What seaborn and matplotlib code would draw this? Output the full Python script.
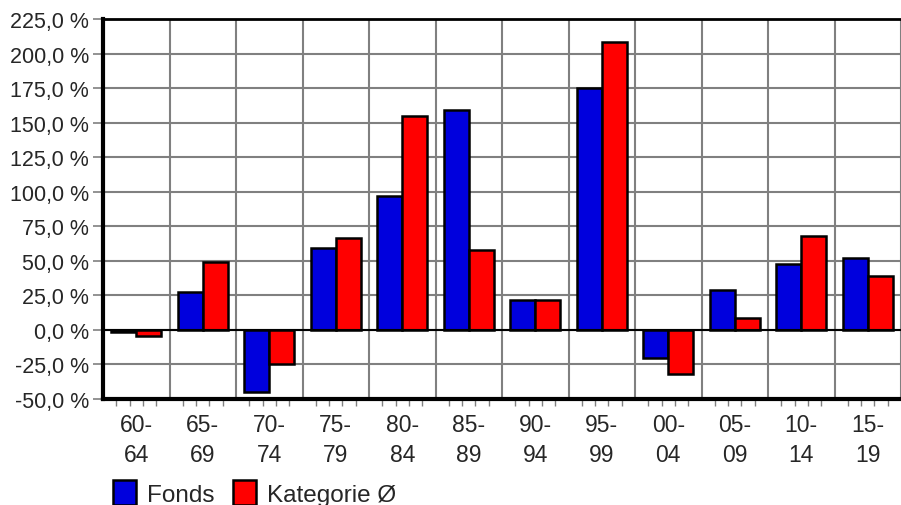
import numpy as np
import pandas as pd
import matplotlib
matplotlib.use("Agg")
import matplotlib.pyplot as plt
import seaborn as sns
from matplotlib.ticker import FuncFormatter

# Daten
zeitraum = ['60-\n64', '65-\n69', '70-\n74', '75-\n79', '80-\n84', '85-\n89',
            '90-\n94', '95-\n99', '00-\n04', '05-\n09', '10-\n14', '15-\n19']
fonds = [-1.2, 27.7, -44.6, 59.3, 97.0, 159.2, 21.7, 175.1, -20.0, 28.9, 47.8, 52.3]
kategorie = [-4.3, 49.4, -24.6, 66.8, 154.9, 57.9, 21.7, 208.4, -31.8, 8.4, 68.0, 39.0]
y_ticks = [-50, -25, 0, 25, 50, 75, 100, 125, 150, 175, 200, 225]

df = pd.DataFrame({
    'Zeitraum': zeitraum * 2,
    'Wert': fonds + kategorie,
    'Serie': ['Fonds'] * len(zeitraum) + ['Kategorie Ø'] * len(zeitraum),
})

sns.set_style('white')
plt.rcParams['font.family'] = ['Liberation Sans', 'DejaVu Sans']

fig = plt.figure(figsize=(9.01, 5.06), dpi=100)
ax = fig.add_axes([103 / 901, 1 - 400 / 506, 1 - 103 / 901, 380 / 506])

sns.barplot(data=df, x='Zeitraum', y='Wert', hue='Serie', ax=ax,
            palette={'Fonds': '#0000DD', 'Kategorie Ø': '#FF0000'},
            width=0.75, saturation=1, edgecolor='black', linewidth=1.8)

ax.set_xlim(-0.5, len(zeitraum) - 0.5)
ax.set_ylim(-50, 225)
ax.set_xlabel('')
ax.set_ylabel('')

# Gitter an den Kategoriegrenzen, Beschriftung in der Mitte
grenzen = np.arange(len(zeitraum) + 1) - 0.5
ax.set_xticks(grenzen)
ax.set_xticklabels([''] * len(grenzen))
ax.set_xticks(np.arange(len(zeitraum)), minor=True)
ax.set_xticklabels(zeitraum, minor=True, fontsize=16.5, linespacing=1.37)
ax.tick_params(axis='x', which='major', length=9, width=1.2, color='#808080', direction='out')
ax.tick_params(axis='x', which='minor', length=0, pad=10)

# kleine Striche zwischen den Grenzen
sek = ax.secondary_xaxis('bottom')
klein = [g + k / 5 for g in grenzen[:-1] for k in range(1, 5)]
sek.set_xticks(klein)
sek.set_xticklabels([''] * len(klein))
sek.tick_params(length=5, width=1, color='#808080')
sek.spines['bottom'].set_visible(False)

ax.set_yticks(y_ticks)
ax.yaxis.set_major_formatter(FuncFormatter(lambda v, p: f'{v:.1f} %'.replace('.', ',')))
ax.tick_params(axis='y', length=7, width=1.2, color='#808080', labelsize=15.5, pad=3)
ax.tick_params(axis='y', which='both', left=True)

ax.grid(True, which='major', color='#808080', linewidth=1.5)
ax.set_axisbelow(True)
ax.axhline(0, color='black', linewidth=1.5, zorder=1.5)

ax.spines['left'].set_linewidth(3)
ax.spines['bottom'].set_linewidth(3)
ax.spines['top'].set_linewidth(2)
ax.spines['right'].set_visible(False)
for s in ['left', 'bottom', 'top']:
    ax.spines[s].set_color('black')

handles, labels = ax.get_legend_handles_labels()
ax.get_legend().remove()
fig.legend(handles, labels, loc='upper left', bbox_to_anchor=(113 / 901, 1 - 481 / 506),
           ncol=2, frameon=False, fontsize=17.5, handlelength=0.95, handleheight=1.2,
           handletextpad=0.45, columnspacing=0.75, borderaxespad=0, borderpad=0)

plt.savefig('out.png', dpi=100)
